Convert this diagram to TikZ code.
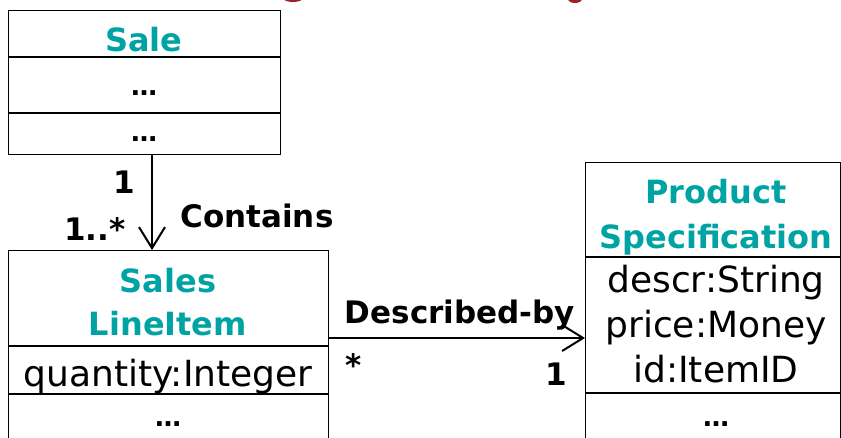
\documentclass[tikz,border=0pt]{standalone}
\usepackage{fontspec}
\setmainfont{DejaVu Sans}
\usetikzlibrary{arrows.meta}
\definecolor{classteal}{RGB}{0,163,163}
\definecolor{titlered}{RGB}{160,30,40}
\begin{document}
\begin{tikzpicture}[x=1pt,y=-1pt,
  box/.style={draw=black, line width=1.3pt, inner sep=0pt, anchor=north west},
  sep/.style={line width=1.3pt},
  cname/.style={font=\fontsize{32}{32}\selectfont\bfseries, text=classteal, anchor=base, inner sep=0pt},
  attr/.style={font=\fontsize{36}{36}\selectfont, anchor=base, inner sep=0pt},
  dots/.style={font=\fontsize{26}{26}\selectfont\bfseries, anchor=base, inner sep=0pt},
  lbl/.style={font=\fontsize{31}{31}\selectfont\bfseries, anchor=base, inner sep=0pt},
  assoc/.style={line width=2pt, -{Straight Barb[length=21pt,width=26pt,line width=2pt]}}]
\useasboundingbox (0,0) rectangle (841,437);
\clip (0,0) rectangle (841,437);

% descenders of the heading above
\fill[titlered] (293,-2) ellipse (10pt and 4pt);
\fill[titlered] (575,-1) ellipse (7pt and 4pt);

% class Sale
\node[box, minimum width=272pt, minimum height=144pt] (sale) at (8,10) {};
\draw[sep] (sale.west |- 0,57) -- (sale.east |- 0,57);
\draw[sep] (sale.west |- 0,113) -- (sale.east |- 0,113);
\node[cname] (saleName) at (144,51) {Sale};
\node[dots] (saleAttr) at (144,95) {\ldots};
\node[dots] (saleOps) at (144,141) {\ldots};

% class SalesLineItem
\node[box, minimum width=320pt, minimum height=240pt] (sli) at (8,250) {};
\draw[sep] (sli.west |- 0,346) -- (sli.east |- 0,346);
\draw[sep] (sli.west |- 0,394) -- (sli.east |- 0,394);
\node[cname] (sliName1) at (168,292) {Sales};
\node[cname] (sliName2) at (168,335) {LineItem};
\node[attr] (sliQty) at (168,386) {quantity:Integer};
\node[dots] (sliOps) at (168,426) {\ldots};

% class ProductSpecification
\node[box, minimum width=255pt, minimum height=330pt] (ps) at (585,162) {};
\draw[sep] (ps.west |- 0,257) -- (ps.east |- 0,257);
\draw[sep] (ps.west |- 0,393) -- (ps.east |- 0,393);
\node[cname] (psName1) at (716,203) {Product};
\node[cname] (psName2) at (716,248) {Specification};
\node[attr] (psDescr) at (716,292) {descr:String};
\node[attr] (psPrice) at (716,337) {price:Money};
\node[attr] (psId) at (716,382) {id:ItemID};
\node[dots] (psOps) at (716,426) {\ldots};

% association Contains
\coordinate (cx) at (152,0);
\draw[assoc] (cx |- sale.south) -- (cx |- sli.north);
\node[lbl] (containsOne) at (124,193) {1};
\node[lbl] (containsMany) at (95,240) {1..*};
\node[lbl] (containsName) at (257,227) {Contains};

% association Described-by
\coordinate (dy) at (0,338);
\draw[assoc] (sli.east |- dy) -- (ps.west |- dy);
\node[lbl] (descName) at (460,323) {Described-by};
\node[lbl] (descMany) at (354,376) {*};
\node[lbl] (descOne) at (556,385) {1};
\end{tikzpicture}
\end{document}
